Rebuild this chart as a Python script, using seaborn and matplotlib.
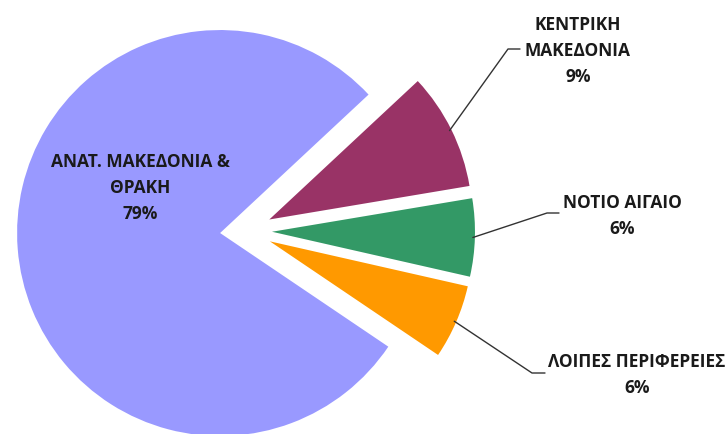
import numpy as np
import matplotlib.pyplot as plt
import seaborn as sns

# Δεδομένα (μερίδια σε %, οι ετικέτες δείχνουν στρογγυλεμένες τιμές)
regions = ['ΚΕΝΤΡΙΚΗ\nΜΑΚΕΔΟΝΙΑ', 'ΝΟΤΙΟ ΑΙΓΑΙΟ', 'ΛΟΙΠΕΣ ΠΕΡΙΦΕΡΕΙΕΣ', 'ΑΝΑΤ. ΜΑΚΕΔΟΝΙΑ &\nΘΡΑΚΗ']
shares = [9.3, 6.2, 5.9, 78.6]
colors = ['#993366', '#339966', '#FF9900', '#9999FF']

sns.set_theme(style='white')
plt.rcParams['font.family'] = ['Open Sans', 'DejaVu Sans']

W, H = 727, 434
R = 203.0          # ακτίνα σε pixels
cx, cy = 246, 231  # κέντρο της πίτας (pixels)


def px(x, y):
    return (x - cx) / R, (cy - y) / R


fig = plt.figure(figsize=(W / 100, H / 100), dpi=100)
ax = fig.add_axes([0, 0, 1, 1])
x0, y0 = px(0, H)
x1, y1 = px(W, 0)

explode = [0.128] * 4
wedges, _ = ax.pie(shares, colors=colors, explode=explode, startangle=43,
                   counterclock=False, radius=1.0, center=(0, 0),
                   wedgeprops=dict(linewidth=0), frame=True)
ax.set_xlim(x0, x1)
ax.set_ylim(y0, y1)
ax.set_aspect('equal')
ax.axis('off')

tkw = dict(fontsize=12.5, fontweight='bold', color='#1a1a1a', ha='center', va='center',
           linespacing=1.6)

# Ετικέτα της μεγάλης φέτας (μέσα)
bx, by = px(140, 188)
ax.text(bx, by, f'{regions[3]}\n{round(shares[3])}%', **tkw)

# Ετικέτες με γραμμές οδηγούς για τις μικρές φέτες
elbows = [((508, 49), (520, 49)), ((547, 213), (559, 213)), ((532, 373), (545, 373))]
label_pos = [(578, 51), (622, 216), (637, 375)]
for w, lab, val, (e1, e2), lp in zip(wedges[:3], regions[:3], shares[:3], elbows, label_pos):
    ang = np.deg2rad((w.theta1 + w.theta2) / 2)
    sx = w.center[0] + 0.99 * w.r * np.cos(ang)
    sy = w.center[1] + 0.99 * w.r * np.sin(ang)
    p1 = px(*e1)
    p2 = px(*e2)
    ax.plot([sx, p1[0], p2[0]], [sy, p1[1], p2[1]], color='#333333', lw=1.0)
    lx, ly = px(*lp)
    ax.text(lx, ly, f'{lab}\n{round(val)}%', **tkw)

fig.savefig('out.png', dpi=100)
